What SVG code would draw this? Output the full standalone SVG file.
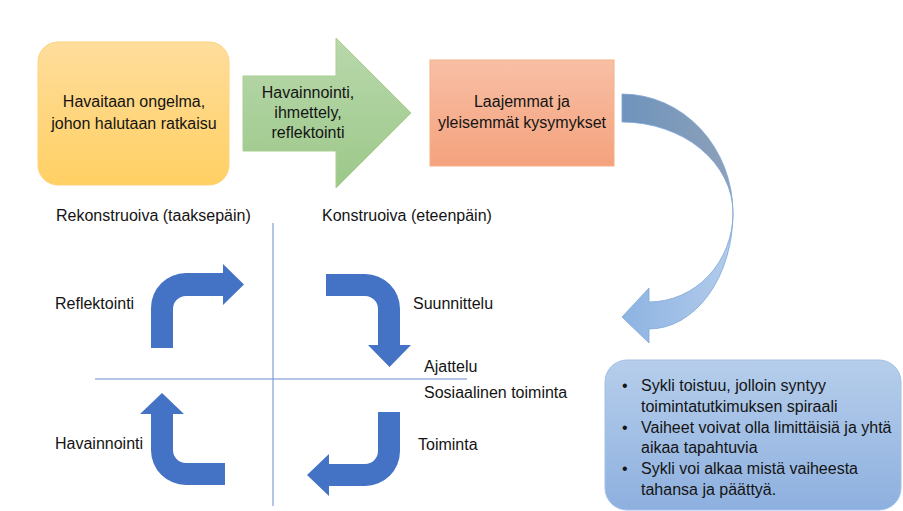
<svg xmlns="http://www.w3.org/2000/svg" width="903" height="511" viewBox="0 0 903 511">
<defs>
<linearGradient id="gYellow" x1="0" y1="0" x2="0" y2="1"><stop offset="0" stop-color="#FFDD9C"/><stop offset="1" stop-color="#FFD063"/></linearGradient>
<linearGradient id="gGreen" x1="0" y1="0" x2="0" y2="1"><stop offset="0" stop-color="#B9D8AC"/><stop offset="1" stop-color="#9CC889"/></linearGradient>
<linearGradient id="gOrange" x1="0" y1="0" x2="0" y2="1"><stop offset="0" stop-color="#F8BFA5"/><stop offset="1" stop-color="#F4A27D"/></linearGradient>
<linearGradient id="gBox" x1="0" y1="0" x2="0" y2="1"><stop offset="0" stop-color="#B6CEEB"/><stop offset="1" stop-color="#8EB0DF"/></linearGradient>
<linearGradient id="gCurveTop" gradientUnits="userSpaceOnUse" x1="622" y1="0" x2="733" y2="0"><stop offset="0" stop-color="#6E93BD"/><stop offset="1" stop-color="#8EA1B8"/></linearGradient>
<linearGradient id="gCurveBot" gradientUnits="userSpaceOnUse" x1="622" y1="0" x2="733" y2="0"><stop offset="0" stop-color="#8DB3E2"/><stop offset="1" stop-color="#B3CCEB"/></linearGradient>
<style>
text{font-family:"Liberation Sans",Arial,sans-serif;font-size:16px;fill:#141414}
.c{text-anchor:middle}
.bent{fill:#4472C4}
.axis{stroke:#6A8ED0;stroke-width:1;fill:none}
</style>
</defs>
<rect width="903" height="511" fill="#FFFFFF"/>

<g id="node-problem">
<rect x="38" y="42" width="191" height="143" rx="20" ry="20" fill="url(#gYellow)" stroke="#FFD27A" stroke-width="1"/>
<text class="c" x="134" y="107">Havaitaan ongelma,</text>
<text class="c" x="134" y="129">johon halutaan ratkaisu</text>
</g>

<g id="node-observe">
<polygon points="243,76 336,76 336,38 411,113 336,188 336,151 243,151" fill="url(#gGreen)" stroke="#A9D18E" stroke-width="1"/>
<text class="c" x="308" y="98">Havainnointi,</text>
<text class="c" x="308" y="118">ihmettely,</text>
<text class="c" x="308" y="138">reflektointi</text>
</g>

<g id="node-questions">
<rect x="430" y="60" width="184" height="106" fill="url(#gOrange)" stroke="#F4B183" stroke-width="1"/>
<text class="c" x="522" y="107">Laajemmat ja</text>
<text class="c" x="522" y="128">yleisemmät kysymykset</text>
</g>

<g id="node-notes">
<rect x="605" y="360" width="296" height="150" rx="22" ry="22" fill="url(#gBox)" stroke="#A3C0E6" stroke-width="1"/>
<text x="622" y="391">•</text><text x="641" y="391">Sykli toistuu, jolloin syntyy</text>
<text x="641" y="412">toimintatutkimuksen spiraali</text>
<text x="622" y="433">•</text><text x="641" y="433">Vaiheet voivat olla limittäisiä ja yhtä</text>
<text x="641" y="453">aikaa tapahtuvia</text>
<text x="622" y="474">•</text><text x="641" y="474">Sykli voi alkaa mistä vaiheesta</text>
<text x="641" y="495">tahansa ja päättyä.</text>
</g>

<g id="quadrant-axes">
<line class="axis" x1="273" y1="223" x2="273" y2="506"/>
<line class="axis" x1="95" y1="379" x2="467" y2="379"/>
</g>

<g id="labels">
<text x="56" y="221">Rekonstruoiva (taaksepäin)</text>
<text x="322" y="221">Konstruoiva (eteenpäin)</text>
<text x="55" y="309">Reflektointi</text>
<text x="413" y="309">Suunnittelu</text>
<text x="424" y="372">Ajattelu</text>
<text x="424" y="398">Sosiaalinen toiminta</text>
<text x="55" y="449">Havainnointi</text>
<text x="418" y="450">Toiminta</text>
</g>

<g id="connectors">
<g id="curved-arrow">
<path d="M622,94 A111,119 0 0 1 733,213 A111,91 0 0 0 622,122 Z" fill="url(#gCurveTop)" stroke="#7FA6D6" stroke-width="0.8"/>
<path d="M733,213 A84,116 0 0 1 649,329 L649,343 L622,317 L649,288 L649,302 A84,89 0 0 0 733,213 Z" fill="url(#gCurveBot)" stroke="#7FA6D6" stroke-width="0.8"/>
</g>
<path id="arrow-reflect" class="bent" d="M151,348 L151,308 A35,35 0 0 1 186,273 L223,273 L223,264 L244,284.5 L223,305 L223,296 L186,296 A13,13 0 0 0 173,309 L173,348 Z"/>
<path id="arrow-plan" class="bent" d="M326,274 L365,274 A35,35 0 0 1 400,309 L400,345 L411,345 L389.5,367 L368,345 L378,345 L378,309 A13,13 0 0 0 365,296 L326,296 Z"/>
<path id="arrow-act" class="bent" d="M378,412 L400,412 L400,451 A35,35 0 0 1 365,486 L329,486 L329,496 L307,475 L329,454 L329,464 L365,464 A13,13 0 0 0 378,451 Z"/>
<path id="arrow-observe" class="bent" d="M225,485 L186,485 A35,35 0 0 1 151,450 L151,414 L140,414 L162,393 L184,414 L173,414 L173,450 A13,13 0 0 0 186,463 L225,463 Z"/>
</g>
</svg>
